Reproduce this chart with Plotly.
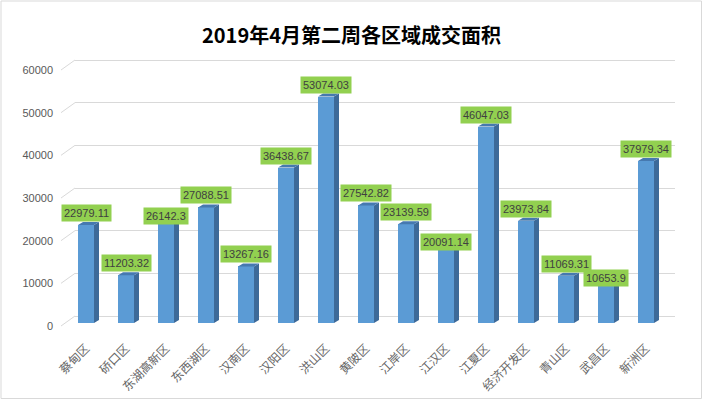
import plotly.graph_objects as go

categories = ["蔡甸区", "硚口区", "东湖高新区", "东西湖区", "汉南区", "汉阳区", "洪山区", "黄陂区",
              "江岸区", "江汉区", "江夏区", "经济开发区", "青山区", "武昌区", "新洲区"]
values = [22979.11, 11203.32, 26142.3, 27088.51, 13267.16, 36438.67, 53074.03, 27542.82,
          23139.59, 20091.14, 46047.03, 23973.84, 11069.31, 10653.9, 37979.34]
y_ticks = [0, 10000, 20000, 30000, 40000, 50000, 60000]

# label vertical nudges (px) – a few labels sit lower, as in the source chart
label_yshift = [3, 3, -14, 3, 3, 3, 3, 3, 3, -14, 3, 3, 3, -9, 3]

W, H = 703, 400
ML, MR, MT, MB = 56, 28, 55, 70
PW, PH = W - ML - MR, H - MT - MB
k = 256 / 60000.0             # px per unit
span = PH / k

def yrange(zero_px):
    r1 = (zero_px - MT) / k
    return [r1 - span, r1]

half = 0.2                    # half bar width (category units)
dx = 5 / 40.0                 # depth in x (units)
dy = 3 / k                    # depth in y (units)

xs = list(range(len(categories)))

side_x, side_y, top_x, top_y = [], [], [], []
for i, v in zip(xs, values):
    x1 = i + half
    side_x += [x1, x1, x1 + dx, x1 + dx, x1, None]
    side_y += [0, v, v + dy, dy, 0, None]
    top_x += [i - half, x1, x1 + dx, i - half + dx, i - half, None]
    top_y += [v, v, v + dy, v + dy, v, None]

fig = go.Figure()
fig.add_trace(go.Bar(x=xs, y=values, width=2 * half, yaxis="y2",
                     marker=dict(color="#5B9BD5", line=dict(width=0)),
                     hoverinfo="skip", showlegend=False))
fig.add_trace(go.Scatter(x=side_x, y=side_y, yaxis="y2", mode="lines", fill="toself",
                         fillcolor="#3D6A99", line=dict(width=0, color="#3D6A99"),
                         hoverinfo="skip", showlegend=False))
fig.add_trace(go.Scatter(x=top_x, y=top_y, yaxis="y2", mode="lines", fill="toself",
                         fillcolor="#4679B0", line=dict(width=0, color="#4679B0"),
                         hoverinfo="skip", showlegend=False))

annotations = []
for i, v, ys in zip(xs, values, label_yshift):
    annotations.append(dict(x=i, y=v, xref="x", yref="y2", text=str(v), showarrow=False,
                            yanchor="bottom", xanchor="center", yshift=ys,
                            bgcolor="#92D050", borderpad=2,
                            font=dict(family="Liberation Sans, Arial", size=11, color="#404040")))

x0_dom = 19 / PW
shapes = []
for v in y_ticks:
    shapes.append(dict(type="line", xref="paper", yref="y",
                       x0=5 / PW, y0=v - 10 / k, x1=x0_dom, y1=v,
                       line=dict(color="#D9D9D9", width=1)))
# outer chart border
shapes.append(dict(type="rect", xref="paper", yref="paper",
                   x0=-(ML - 1) / PW, x1=1 + (MR - 1.5) / PW,
                   y0=-(MB - 1.5) / PH, y1=1 + (MT - 1) / PH,
                   line=dict(color="#D9D9D9", width=1), fillcolor="rgba(0,0,0,0)", layer="below"))

fig.update_layout(
    width=W, height=H,
    margin=dict(l=ML, r=MR, t=MT, b=MB, autoexpand=False),
    paper_bgcolor="white", plot_bgcolor="white",
    title=dict(text="<b>2019年4月第二周各区域成交面积</b>", x=0.5, xref="container",
               y=1 - 36 / H, yref="container", yanchor="middle", xanchor="center",
               font=dict(family="Noto Sans CJK SC", size=20, color="#000000")),
    xaxis=dict(domain=[x0_dom, 1], range=[-0.275, 14.725], tickmode="array",
               tickvals=xs, ticktext=categories, tickangle=-45, showgrid=False,
               zeroline=False, showline=False, ticks="", ticklabelstandoff=8,
               automargin=False,
               tickfont=dict(family="Noto Sans CJK SC", size=12, color="#666666")),
    yaxis=dict(range=yrange(316), tickvals=y_ticks, showticklabels=False,
               showgrid=True, gridcolor="#D9D9D9", gridwidth=1, zeroline=False,
               showline=False, ticks="", automargin=False),
    yaxis2=dict(range=yrange(323), overlaying="y", showgrid=False, zeroline=False,
                showticklabels=False, showline=False, ticks="", automargin=False),
    yaxis3=dict(range=yrange(326), overlaying="y", anchor="free", position=0,
                tickvals=y_ticks, ticktext=[str(t) for t in y_ticks],
                showgrid=False, zeroline=False, showline=False, automargin=False,
                ticks="", ticklabelstandoff=3,
                tickfont=dict(family="Liberation Sans, Arial", size=11, color="#595959")),
    annotations=annotations,
    shapes=shapes,
    bargap=0,
)
# dummy trace so yaxis3 is shown
fig.add_trace(go.Scatter(x=[None], y=[None], yaxis="y3", showlegend=False, hoverinfo="skip"))

fig.write_html("out.html")
